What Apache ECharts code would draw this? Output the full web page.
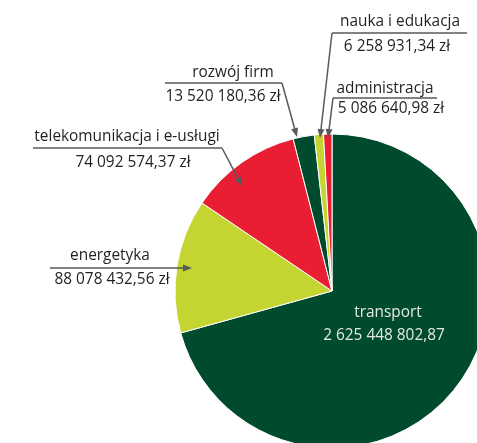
<!DOCTYPE html>
<html>
<head>
<meta charset="utf-8">
<script src="https://cdn.jsdelivr.net/npm/echarts@6/dist/echarts.min.js"></script>
<style>
	html, body { margin: 0; padding: 0; background: #fff; }
	#chart { width: 477px; height: 443px; }
</style>
</head>
<body>
<div id="chart"></div>
<script>
// kategorie (kolejność zgodnie z ruchem wskazówek zegara od godziny 12)
var sliceNames = ['transport', 'energetyka', 'telekomunikacja i e-usługi', 'rozwój firm', 'nauka i edukacja', 'administracja'];
// kwoty podpisane na wykresie
var amountLabels = ['2 625 448 802,87', '88 078 432,56 zł', '74 092 574,37 zł', '13 520 180,36 zł', '6 258 931,34 zł', '5 086 640,98 zł'];
// udział wycinka (stopnie) - wykres nie jest proporcjonalny do kwot
var sliceShares = [254.5, 49.6, 41.6, 7.8, 3.4, 3.1];

var sliceColors = ['#004a2e', '#c4d431', '#e91e33', '#004a2e', '#c4d431', '#e91e33'];

// rozmieszczenie podpisów (nazwa, linia, kwota, strzałka)
var callouts = [
	null,
	{ nx: 110, ny: 256, ly: 268, lx1: 50, lx2: 150, vx: 112, vy: 280, path: [[150, 268], [192, 268]] },
	{ nx: 127, ny: 137, ly: 148, lx1: 33, lx2: 222, vx: 133, vy: 163, path: [[222, 148], [242, 186]] },
	{ nx: 233, ny: 73, ly: 83, lx1: 165, lx2: 282, vx: 223, vy: 97, path: [[282, 83], [297, 137]] },
	{ nx: 400, ny: 22, ly: 33, lx1: 332, lx2: 467, vx: 397, vy: 47, path: [[332, 33], [320, 138]] },
	{ nx: 385, ny: 89, ly: 98, lx1: 333, lx2: 437, vx: 391, vy: 109, path: [[333, 98], [328, 138]] }
];

var textColor = '#231f20';
var lineColor = '#58595b';
var labelFont = '15.4px "Open Sans"';

/**
 * grot strzałki na końcu odcinka
 */
function arrowHead(p0, p1) {
	var dx = p1[0] - p0[0], dy = p1[1] - p0[1];
	var len = Math.sqrt(dx * dx + dy * dy);
	var ux = dx / len, uy = dy / len;
	var L = 9, W = 3.5;
	var bx = p1[0] - ux * L, by = p1[1] - uy * L;
	return {
		type: 'polygon',
		silent: true,
		z: 100,
		shape: { points: [p1, [bx - uy * W, by + ux * W], [bx + uy * W, by - ux * W]] },
		style: { fill: lineColor }
	};
}

/**
 * podpisy z liniami odniesienia
 */
function buildGraphic() {
	var els = [];
	for (var i = 0; i < callouts.length; i++) {
		var c = callouts[i];
		if (!c) continue;
		els.push({
			type: 'text', silent: true, z: 100, x: c.nx, y: c.ny,
			style: { text: sliceNames[i], fill: textColor, font: labelFont, align: 'center', verticalAlign: 'middle' }
		});
		els.push({
			type: 'text', silent: true, z: 100, x: c.vx, y: c.vy,
			style: { text: amountLabels[i], fill: textColor, font: labelFont, align: 'center', verticalAlign: 'middle' }
		});
		els.push({
			type: 'line', silent: true, z: 100,
			shape: { x1: c.lx1, y1: c.ly, x2: c.lx2, y2: c.ly },
			style: { stroke: lineColor, lineWidth: 1.5 }
		});
		var p = c.path;
		var end = p[p.length - 1], prev = p[p.length - 2];
		// skrócona linia, żeby nie wystawała spod grotu
		var dx = end[0] - prev[0], dy = end[1] - prev[1];
		var len = Math.sqrt(dx * dx + dy * dy);
		var cut = [end[0] - dx / len * 6, end[1] - dy / len * 6];
		els.push({
			type: 'polyline', silent: true, z: 100,
			shape: { points: p.slice(0, p.length - 1).concat([cut]) },
			style: { stroke: lineColor, lineWidth: 1.5, fill: null }
		});
		els.push(arrowHead(prev, end));
	}
	// podpis transportu wewnątrz wycinka
	els.push({
		type: 'text', silent: true, z: 100, x: 388, y: 313,
		style: { text: sliceNames[0], fill: '#e4eadf', font: labelFont, align: 'center', verticalAlign: 'middle' }
	});
	els.push({
		type: 'text', silent: true, z: 100, x: 384, y: 336,
		style: { text: amountLabels[0], fill: '#e4eadf', font: labelFont, align: 'center', verticalAlign: 'middle' }
	});
	return els;
}

var myChart = echarts.init(document.getElementById('chart'));
var pieData = sliceNames.map(function(name, i) {
	return { name: name, value: sliceShares[i], itemStyle: { color: sliceColors[i] } };
});
var option = {
	backgroundColor: '#fff',
	animation: false,
	series: [{
		type: 'pie',
		center: [332, 291],
		radius: 157,
		startAngle: 90,
		clockwise: true,
		avoidLabelOverlap: false,
		label: { show: false },
		labelLine: { show: false },
		emphasis: { disabled: true },
		itemStyle: { borderColor: '#ffffff', borderWidth: 1 },
		data: pieData
	}],
	graphic: buildGraphic()
};
myChart.setOption(option);
</script>
</body>
</html>
